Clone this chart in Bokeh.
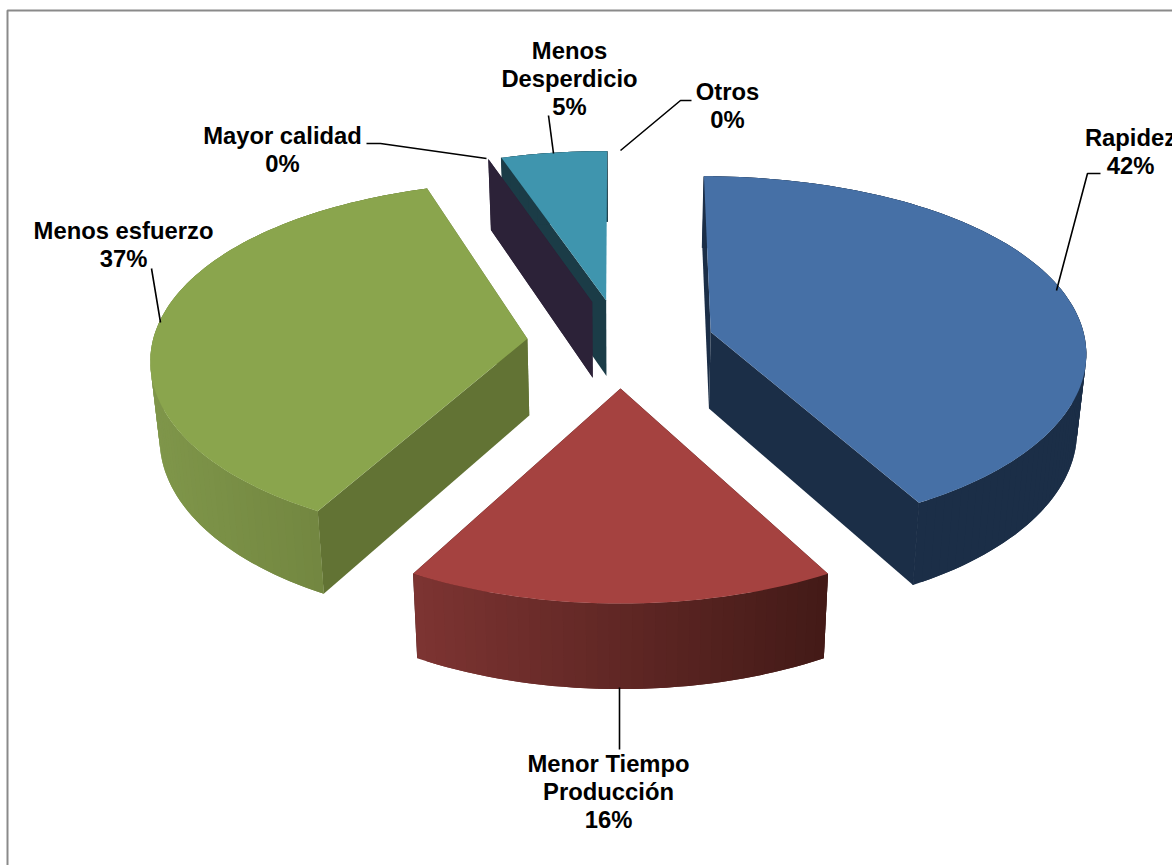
import math

from bokeh.core.properties import value
from bokeh.embed import file_html
from bokeh.models import Range1d
from bokeh.plotting import figure
from bokeh.resources import INLINE

# Survey answers, in clockwise order from twelve o'clock
categories = ["Rapidez", "Menor Tiempo Producción", "Menos esfuerzo",
              "Mayor calidad", "Menos Desperdicio", "Otros"]
shares = [42, 16, 37, 0, 5, 0]

top_colors = ["#4670A6", "#A54240", "#8AA54D", "#2C2238", "#3F95AE", "#C77A30"]
wall_colors = ["#1B2E47", "#431A17", "#627334", "#2C2238", "#1B3C47", "#C77A30"]
rim_left = [(27, 46, 71), (125, 52, 50), (127, 150, 74), (44, 34, 56), (27, 60, 71), (199, 122, 48)]
rim_right = [(27, 46, 71), (67, 26, 23), (107, 125, 58), (44, 34, 56), (27, 60, 71), (199, 122, 48)]

label_lines = [["Rapidez"], ["Menor Tiempo", "Producción"], ["Menos esfuerzo"],
               ["Mayor calidad"], ["Menos", "Desperdicio"], ["Otros"]]
label_x = [1130, 608, 123, 282, 569, 727]
label_y = [137, 763, 230, 135, 50, 91]
leader_xs = [[1056, 1087, 1100], [619, 619], [160, 151], [366, 380, 486], [553, 548], [620, 680, 691]]
leader_ys = [[290, 173, 173], [687, 749], [322, 268], [143, 143, 158], [153, 115], [150, 100, 100]]

# Projection of the exploded pie: unit radius, camera above the near edge
CX, CY = 620.0, 342.4
SCALE_X, SCALE_Y = 375.0, 177.0
PERSPECTIVE_X, PERSPECTIVE_Y = 0.10, 0.121
LENS = 0.015
EXPLODE = 0.25
THICKNESS = 77.0
BOTTOM_SHRINK = 0.98


def project(wx, wy, lower):
    wh = (1.0 + LENS * wy * wy) / (1.0 + PERSPECTIVE_X * wy)
    wv = 1.0 / (1.0 + PERSPECTIVE_Y * wy)
    x = SCALE_X * wx * wh
    y = -SCALE_Y * wy * wv
    if lower:
        return CX + x * BOTTOM_SHRINK, CY + y * BOTTOM_SHRINK + THICKNESS * wv
    return CX + x, CY + y


p = figure(width=1172, height=865, output_backend="svg", toolbar_location=None,
           x_range=Range1d(0, 1172), y_range=Range1d(865, 0),
           x_axis_location=None, y_axis_location=None, min_border=0)
p.grid.visible = False
p.outline_line_color = None
p.background_fill_color = "white"
p.border_fill_color = "white"

# Chart-area border, running off the page on the right and at the bottom
p.line([7, 7, 1172], [865, 10, 10], line_color="#8A8A8A", line_width=2)

slices = []
running = 0.0
total = sum(shares)
for i, share in enumerate(shares):
    start = running / total * 2 * math.pi
    running += share
    end = running / total * 2 * math.pi
    mid = (start + end) / 2
    slices.append(dict(i=i, start=start, end=end,
                       ex=EXPLODE * math.sin(mid), ey=EXPLODE * math.cos(mid)))

# Farthest slices are painted first so nearer ones cover them
for s in sorted(slices, key=lambda item: -item["ey"]):
    i, ex, ey = s["i"], s["ex"], s["ey"]
    steps = max(2, int(math.degrees(s["end"] - s["start"]) / 1.5))
    angles = [s["start"] + (s["end"] - s["start"]) * k / steps for k in range(steps + 1)]
    rim = [(ex + math.sin(a), ey + math.cos(a)) for a in angles]

    # Cut faces: the one facing away goes down first; edge-on faces are not seen
    faces = sorted([rim[0], rim[-1]], key=lambda pt: -pt[1])
    for fx, fy in faces:
        corners = [project(ex, ey, False), project(ex, ey, True),
                   project(fx, fy, True), project(fx, fy, False)]
        if abs(corners[3][0] - corners[0][0]) < 1.0:
            continue
        p.patch([c[0] for c in corners], [c[1] for c in corners],
                fill_color=wall_colors[i], line_color=None)

    if s["end"] <= s["start"]:
        continue

    # Outer rim: strips painted left to right, each reaching under its right neighbour
    upper = [project(a, b, False) for a, b in rim]
    lower = [project(a, b, True) for a, b in rim]
    lo, hi = min(c[0] for c in upper), max(c[0] for c in upper)
    for k in sorted(range(steps), key=lambda n: upper[n][0] + upper[n + 1][0]):
        rising = upper[k + 1][0] >= upper[k][0]
        first = k if rising else max(k - 1, 0)
        last = min(k + 2, steps) if rising else k + 1
        frac = ((upper[k][0] + upper[k + 1][0]) / 2 - lo) / max(hi - lo, 1.0)
        rgb = tuple(int(round(l + (r - l) * frac)) for l, r in zip(rim_left[i], rim_right[i]))
        color = "#%02X%02X%02X" % rgb
        strip = upper[first:last + 1] + lower[first:last + 1][::-1]
        p.patch([c[0] for c in strip], [c[1] for c in strip],
                fill_color=color, line_color=None)

    # Where rim and cut face share a colour, close the hairline between them
    if rim_left[i] == rim_right[i]:
        for fx, fy in (rim[0], rim[-1]):
            seam_top = project(fx, fy, False)
            seam_low = project(fx, fy, True)
            p.line([seam_top[0], seam_low[0]], [seam_top[1], seam_low[1]],
                   line_color=wall_colors[i], line_width=1)

    # Top face
    outline = [project(ex, ey, False)] + upper
    p.patch([c[0] for c in outline], [c[1] for c in outline],
            fill_color=top_colors[i], line_color=None)

# Leader lines
p.multi_line(leader_xs, leader_ys, line_color="black", line_width=1.6)

# Data labels: category lines followed by the share
LINE_STEP = 28
text_x, text_y, text_s = [], [], []
for lines, lx, ly, share in zip(label_lines, label_x, label_y, shares):
    for k, line in enumerate(lines + [f"{share}%"]):
        text_x.append(lx)
        text_y.append(ly + k * LINE_STEP)
        text_s.append(line)
p.text(text_x, text_y, text=text_s, text_font=value("Liberation Sans"),
       text_font_style="bold", text_font_size="23.8px", text_color="black",
       text_align="center", text_baseline="middle")

open("out.html", "w").write(file_html(p, INLINE))
